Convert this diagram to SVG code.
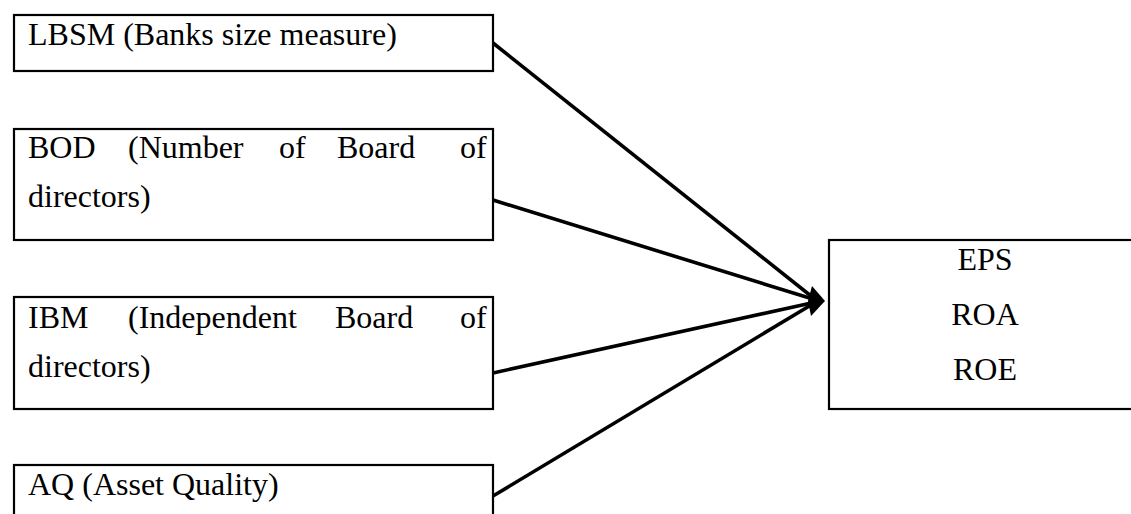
<svg xmlns="http://www.w3.org/2000/svg" width="1131" height="514" viewBox="0 0 1131 514">
  <style>
    .box { fill: #ffffff; stroke: #000000; stroke-width: 2.2; }
    .lbl { font-family: 'Liberation Serif', 'Times New Roman', 'DejaVu Serif', serif; font-size: 32px; fill: #000000; }
    .mid { text-anchor: middle; }
    .conn { stroke: #000000; stroke-width: 3.6; fill: none; }
  </style>
  <rect width="1131" height="514" fill="#ffffff"/>

  <g id="node-lbsm">
    <rect class="box" x="14" y="15" width="479" height="56"/>
    <text class="lbl" font-family="Liberation Serif, serif" x="28" y="45">LBSM (Banks size measure)</text>
  </g>

  <g id="node-bod">
    <rect class="box" x="14" y="129" width="479" height="111"/>
    <text class="lbl" font-family="Liberation Serif, serif" y="158"><tspan x="28">BOD</tspan><tspan x="128">(Number</tspan><tspan x="279">of</tspan><tspan x="337">Board</tspan><tspan x="460">of</tspan></text>
    <text class="lbl" font-family="Liberation Serif, serif" x="28" y="207">directors)</text>
  </g>

  <g id="node-ibm">
    <rect class="box" x="14" y="297" width="479" height="112"/>
    <text class="lbl" font-family="Liberation Serif, serif" y="328"><tspan x="28">IBM</tspan><tspan x="128">(Independent</tspan><tspan x="335">Board</tspan><tspan x="460">of</tspan></text>
    <text class="lbl" font-family="Liberation Serif, serif" x="28" y="377">directors)</text>
  </g>

  <g id="node-aq">
    <rect class="box" x="14" y="465" width="479" height="70"/>
    <text class="lbl" font-family="Liberation Serif, serif" x="28" y="495">AQ (Asset Quality)</text>
  </g>

  <g id="node-outcomes">
    <rect class="box" x="829" y="240" width="320" height="169"/>
    <text class="lbl mid" font-family="Liberation Serif, serif" x="985" y="270">EPS</text>
    <text class="lbl mid" font-family="Liberation Serif, serif" x="985" y="325">ROA</text>
    <text class="lbl mid" font-family="Liberation Serif, serif" x="985" y="380">ROE</text>
  </g>

  <g id="connectors">
    <line class="conn" x1="493" y1="43" x2="816" y2="300"/>
    <line class="conn" x1="493" y1="200" x2="816" y2="300"/>
    <line class="conn" x1="493" y1="373" x2="816" y2="302"/>
    <line class="conn" x1="493" y1="496" x2="816" y2="302"/>
    <polygon points="825,301 812,286 808,301 811,316" fill="#000000"/>
  </g>
</svg>
